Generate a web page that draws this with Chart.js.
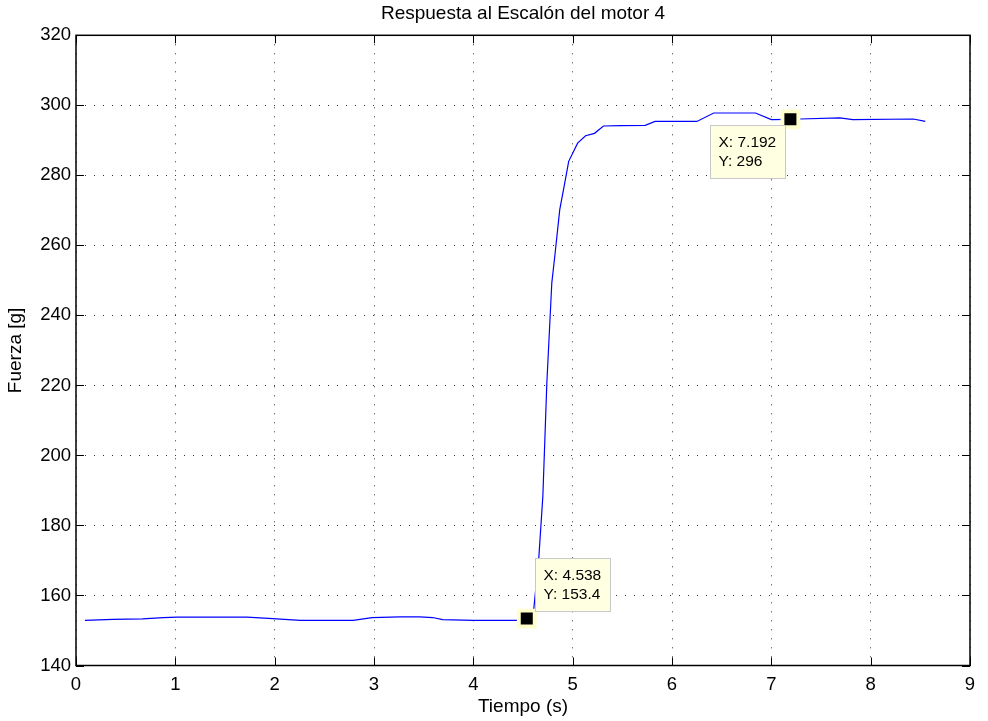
<!DOCTYPE html>
<html>
<head>
<meta charset="utf-8">
<script src="https://cdn.jsdelivr.net/npm/chart.js@4/dist/chart.umd.min.js"></script>
<style>
  body { margin: 0; background: #fff; }
</style>
</head>
<body>
<canvas id="graficoEscalon" width="988" height="721"></canvas>
<script>
//###Datos (tiempo en s, fuerza en g)
var tiempo = [0.09, 0.37, 0.67, 0.88, 1.02, 1.72, 1.98, 2.26, 2.79, 2.98, 3.26, 3.46, 3.59, 3.69, 4.0, 4.44, 4.538, 4.60,
  4.66, 4.70, 4.74, 4.79, 4.82, 4.87, 4.92, 4.96, 5.05, 5.13, 5.22, 5.31, 5.48, 5.73, 5.83, 6.25, 6.42, 6.84, 7.0,
  7.192, 7.29, 7.69, 7.82, 8.43, 8.55]
var fuerza = [152.9, 153.2, 153.3, 153.7, 153.8, 153.8, 153.4, 152.9, 152.9, 153.7, 153.9, 153.9, 153.7, 153.1, 152.9, 152.9, 153.4, 153.6,
  171.1, 188.4, 220.7, 249.3, 256.9, 270.2, 277.8, 284.0, 289.2, 291.3, 292.0, 294.1, 294.2, 294.3, 295.4, 295.4, 297.8, 297.8, 295.9,
  296.0, 296.1, 296.4, 295.9, 296.1, 295.4]
//###Datatips (marcadores de la figura)
var tipX = [4.538, 7.192]
var tipY = [153.4, 296]
//###Etiquetas de los ejes
var ticksX = [0, 1, 2, 3, 4, 5, 6, 7, 8, 9]
var ticksY = [140, 160, 180, 200, 220, 240, 260, 280, 300, 320]

var fuente = "'Liberation Sans', Arial, Helvetica, sans-serif"

//###Armo los puntos {x,y}
var puntos = tiempo.map(function (t, i) { return { x: t, y: fuerza[i] } })
var puntosTip = tipX.map(function (t, i) { return { x: t, y: tipY[i] } })

//###Plugin: marco negro, ticks hacia adentro y cajas de los datatips
var marcoMatlab = {
  id: 'marcoMatlab',
  afterDraw: function (chart) {
    var ctx = chart.ctx
    var a = chart.chartArea
    var sx = chart.scales.x
    var sy = chart.scales.y
    ctx.save()
    ctx.strokeStyle = '#000'
    ctx.lineWidth = 1.5
    ctx.strokeRect(a.left, a.top, a.right - a.left, a.bottom - a.top)
    ctx.lineWidth = 1
    ctx.beginPath()
    ticksX.forEach(function (v) {
      var px = Math.round(sx.getPixelForValue(v)) + 0.5
      ctx.moveTo(px, a.bottom); ctx.lineTo(px, a.bottom - 8)
      ctx.moveTo(px, a.top); ctx.lineTo(px, a.top + 8)
    })
    ticksY.forEach(function (v) {
      var py = Math.round(sy.getPixelForValue(v)) + 0.5
      ctx.moveTo(a.left, py); ctx.lineTo(a.left + 8, py)
      ctx.moveTo(a.right, py); ctx.lineTo(a.right - 8, py)
    })
    ctx.stroke()

    //cajas: desplazamiento respecto al marcador
    var cajas = [{ dx: 8, dy: -61 }, { dx: -80, dy: 6 }]
    ctx.font = '15.5px ' + fuente
    ctx.textBaseline = 'middle'
    tipX.forEach(function (t, i) {
      var px = sx.getPixelForValue(t)
      var py = sy.getPixelForValue(tipY[i])
      var bx = Math.round(px + cajas[i].dx) + 0.5
      var by = Math.round(py + cajas[i].dy) + 0.5
      ctx.fillStyle = 'rgb(255,255,225)'
      ctx.fillRect(bx, by, 75, 53)
      ctx.strokeStyle = 'rgb(200,200,200)'
      ctx.strokeRect(bx, by, 75, 53)
      ctx.fillStyle = '#000'
      ctx.fillText('X: ' + t, bx + 8, by + 17)
      ctx.fillText('Y: ' + tipY[i], bx + 8, by + 36)
    })
    ctx.restore()
  }
}

var ctx = document.getElementById('graficoEscalon').getContext('2d')
var grafico = new Chart(ctx, {
  type: 'line',
  data: {
    datasets: [{
      label: 'Fuerza',
      data: puntos,
      borderColor: 'rgb(0,0,255)',
      borderWidth: 1.2,
      pointRadius: 0,
      tension: 0,
      order: 3
    }, {
      label: 'halo',
      data: puntosTip,
      showLine: false,
      pointStyle: 'rect',
      pointRadius: 14,
      pointBackgroundColor: 'rgb(255,255,205)',
      pointBorderWidth: 0,
      order: 2
    }, {
      label: 'marcador',
      data: puntosTip,
      showLine: false,
      pointStyle: 'rect',
      pointRadius: 8.5,
      pointBackgroundColor: '#000',
      pointBorderWidth: 0,
      order: 1
    }]
  },
  options: {
    responsive: false,
    animation: false,
    layout: { padding: { left: 0, right: 18, top: 0, bottom: 0 } },
    plugins: {
      legend: { display: false },
      tooltip: { enabled: false },
      title: {
        display: true,
        text: 'Respuesta al Escalón del motor 4',
        color: '#000',
        fullSize: false,
        font: { family: fuente, size: 19, weight: 'normal' },
        padding: { top: 2, bottom: 10.5 }
      }
    },
    scales: {
      x: {
        type: 'linear',
        min: 0,
        max: 9,
        afterBuildTicks: function (s) { s.ticks = ticksX.map(function (v) { return { value: v } }) },
        afterFit: function (s) { s.height = 55.5 },
        ticks: { color: '#000', padding: 8, font: { family: fuente, size: 18.5 } },
        grid: { color: 'rgba(0,0,0,0.8)', lineWidth: 1, drawTicks: false },
        border: { display: false, dash: [1, 8] },
        title: { display: true, text: 'Tiempo (s)', color: '#000', padding: { top: 3, bottom: 3 }, font: { family: fuente, size: 19 } }
      },
      y: {
        min: 140,
        max: 320,
        afterBuildTicks: function (s) { s.ticks = ticksY.map(function (v) { return { value: v } }) },
        afterFit: function (s) { s.width = 76 },
        ticks: { color: '#000', padding: 5, font: { family: fuente, size: 18.5 } },
        grid: { color: 'rgba(0,0,0,0.8)', lineWidth: 1, drawTicks: false },
        border: { display: false, dash: [1, 8] },
        title: { display: true, text: 'Fuerza [g]', color: '#000', padding: { top: 4, bottom: 4 }, font: { family: fuente, size: 19 } }
      }
    }
  },
  plugins: [marcoMatlab]
})
</script>
</body>
</html>
